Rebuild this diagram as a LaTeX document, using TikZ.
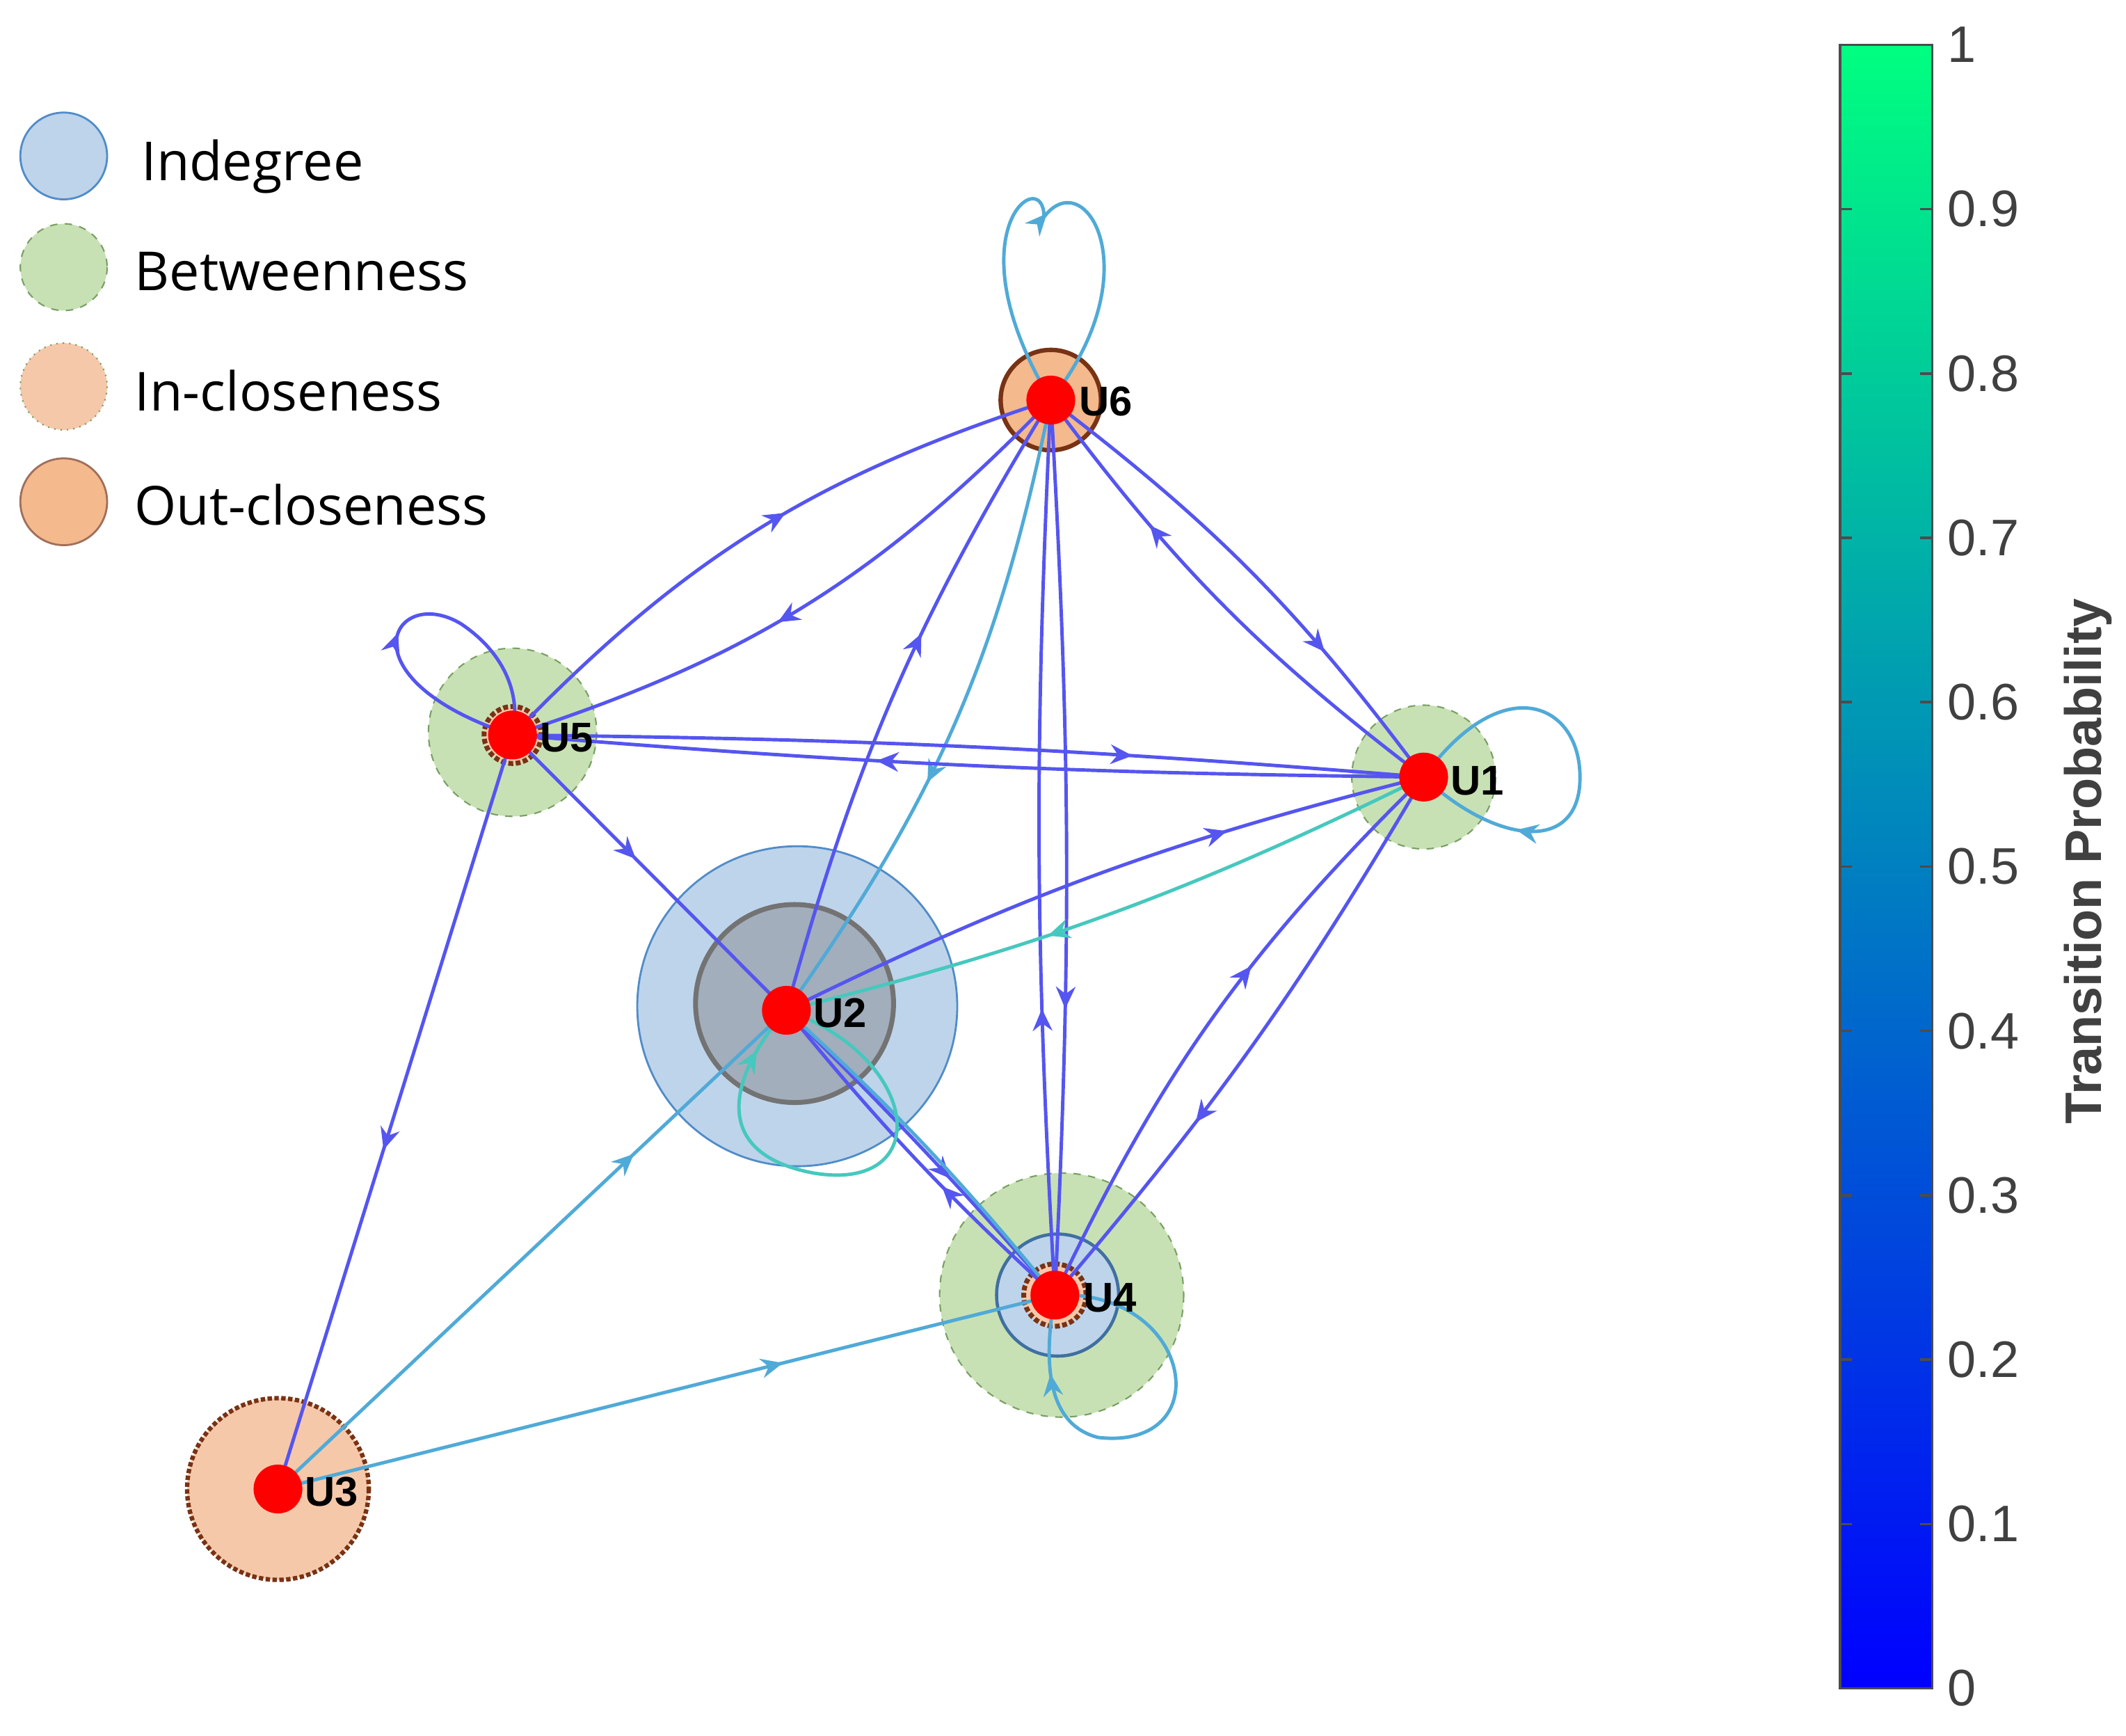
\documentclass[tikz,border=0pt]{standalone}
\usepackage{fontspec}
\setmainfont{Open Sans}
\newfontfamily\arl{Liberation Sans}
\usetikzlibrary{arrows.meta,decorations.markings}
\definecolor{eb}{RGB}{85,85,240}
\definecolor{ec}{RGB}{80,170,215}
\definecolor{et}{RGB}{70,200,190}
\definecolor{ind}{RGB}{190,212,235}
\definecolor{indb}{RGB}{80,140,200}
\definecolor{btw}{RGB}{200,225,180}
\definecolor{btwb}{RGB}{120,160,100}
\definecolor{inc}{RGB}{246,200,170}
\definecolor{outc}{RGB}{244,185,140}
\definecolor{brn}{RGB}{120,50,20}
\definecolor{cb0}{RGB}{0,0,255}
\definecolor{cb5}{RGB}{0,128,192}
\definecolor{cb1}{RGB}{0,255,128}
\tikzset{
 x=0.01949cm,y=-0.01949cm,
 e/.style={line width=1.4pt,draw=#1},
 m/.style={postaction={decorate},decoration={markings,mark=at position #1 with {\arrow{Stealth[length=9pt,width=8pt,inset=3pt]}}}},
 nd/.style={circle,fill=red,minimum size=36*0.01949cm,inner sep=0pt},
 lab/.style={font=\arl\bfseries\fontsize{17}{17}\selectfont,anchor=west,inner sep=1pt},
 leg/.style={font=\fontsize{22}{22}\selectfont,anchor=west},
 tk/.style={font=\arl\fontsize{21}{21}\selectfont,anchor=west,text=black!75},
}
\begin{document}
\begin{tikzpicture}
\useasboundingbox (0,0) rectangle (1568,1280);
% legend
\draw[indb,fill=ind,line width=0.8pt] (47,115) circle (32);
\draw[btwb,fill=btw,dashed,line width=0.6pt] (47,197) circle (32);
\draw[btwb,fill=inc,dotted,line width=0.6pt] (47,285) circle (32);
\draw[brn!70,fill=outc,line width=0.8pt] (47,370) circle (32);
\node[leg] (l1) at (98,123) {Indegree};
\node[leg] (l2) at (93,200) {Betweenness};
\node[leg] (l3) at (93,288) {In-closeness};
\node[leg] (l4) at (93,372) {Out-closeness};
% centrality circles
\draw[indb,fill=ind,line width=0.8pt] (588,742) circle (118);
\draw[gray!90!black,fill=gray!45!ind,line width=2pt] (586,740) circle (73);
\draw[btwb,fill=btw,dashed,line width=0.6pt] (783,955) circle (90);
\draw[indb!80!black,fill=ind,line width=1.3pt] (780,955) circle (45);
\draw[brn,fill=inc,densely dotted,line width=2pt] (778,955) circle (23);
\draw[btwb,fill=btw,dashed,line width=0.6pt] (378,540) circle (62);
\draw[brn,fill=inc,densely dotted,line width=2pt] (378,542) circle (21);
\draw[btwb,fill=btw,dashed,line width=0.6pt] (1050,573) circle (53);
\draw[brn,fill=outc,line width=1.8pt] (775,295) circle (37);
\draw[brn,fill=inc,densely dotted,line width=1.8pt] (205,1098) circle (67);
% node coordinates
\coordinate (U6) at (775,295);
\coordinate (U5) at (378,542);
\coordinate (U1) at (1050,573);
\coordinate (U2) at (580,745);
\coordinate (U4) at (778,955);
\coordinate (U3) at (205,1098);
\coordinate (L6) at (770,160);
\coordinate (L5) at (310,490);
\coordinate (L1) at (1150,570);
\coordinate (L4) at (845,1020);
\coordinate (L2) at (580,820);
% edges
\draw[e=eb,m=0.55] (U6) to[bend left=14] (U5);
\draw[e=eb,m=0.55] (U5) to[bend left=14] (U6);
\draw[e=ec,m=0.6] (U6) to[bend left=12] (U2);
\draw[e=eb,m=0.6] (U2) to[bend left=8] (U6);
\draw[e=eb,m=0.68] (U6) to[bend left=3] (U4);
\draw[e=eb,m=0.32] (U4) to[bend left=3] (U6);
\draw[e=eb,m=0.7] (U6) to[bend left=8] (U1);
\draw[e=eb,m=0.7] (U1) to[bend left=8] (U6);
\draw[e=eb,m=0.6] (U1) to[bend left=2] (U5);
\draw[e=eb,m=0.68] (U5) to[bend left=2] (U1);
\draw[e=et,m=0.6] (U1) to[bend left=6] (U2);
\draw[e=eb,m=0.7] (U2) to[bend left=6] (U1);
\draw[e=eb,m=0.65] (U1) to[bend left=5] (U4);
\draw[e=eb,m=0.6] (U4) to[bend left=10] (U1);
\draw[e=eb,m=0.45] (U5) -- (U2);
\draw[e=eb,m=0.55] (U5) -- (U3);
\draw[e=eb,m=0.6] (U2) to[bend left=2] (U4);
\draw[e=eb,m=0.4] (U4) to[bend left=4] (U2);
\draw[e=ec] (U4) to[bend right=4] (U2);
\draw[e=ec,m=0.7] (U3) -- (U2);
\draw[e=ec,m=0.65] (U3) -- (U4);
% self loops
\draw[e=ec,m=0.5] (U6) .. controls (700,170) and (770,120) .. (L6) .. controls (800,120) and (850,200) .. (U6);
\draw[e=eb,m=0.45] (U5) .. controls (250,500) and (290,430) .. (340,460) .. controls (370,480) and (385,510) .. (U5);
\draw[e=ec,m=0.75] (U1) .. controls (1110,490) and (1170,520) .. (1165,580) .. controls (1160,630) and (1100,620) .. (U1);
\draw[e=ec,m=0.82] (U4) .. controls (880,950) and (900,1070) .. (810,1060) .. controls (770,1050) and (770,1000) .. (U4);
\draw[e=et,m=0.9] (U2) .. controls (680,780) and (690,880) .. (600,865) .. controls (520,850) and (540,790) .. (U2);
% nodes
\node[nd] (n6) at (U6) {};
\node[nd] (n5) at (U5) {};
\node[nd] (n1) at (U1) {};
\node[nd] (n2) at (U2) {};
\node[nd] (n4) at (U4) {};
\node[nd] (n3) at (U3) {};
\node[lab] (t6) at (794,296) {U6};
\node[lab] (t5) at (396,544) {U5};
\node[lab] (t1) at (1068,576) {U1};
\node[lab] (t2) at (598,747) {U2};
\node[lab] (t4) at (797,957) {U4};
\node[lab] (t3) at (223,1100) {U3};
% colorbar
\shade[bottom color=cb0,top color=cb5] (1357,1245) rectangle (1425,639);
\shade[bottom color=cb5,top color=cb1] (1357,639) rectangle (1425,33);
\draw[black!70,line width=1pt] (1357,33) rectangle (1425,1245);
\foreach \v/\t in {0/0,1/0.1,2/0.2,3/0.3,4/0.4,5/0.5,6/0.6,7/0.7,8/0.8,9/0.9,10/1}{
  \draw[black!70,line width=1pt] (1425,1245-121.2*\v) -- ++(-9,0);
  \draw[black!70,line width=1pt] (1357,1245-121.2*\v) -- ++(9,0);
  \node[tk] at (1430,1245-121.2*\v) {\t};
}
\node[font=\arl\bfseries\fontsize{21}{21}\selectfont,rotate=90,text=black!75] (cbl) at (1540,635) {Transition Probability};
\end{tikzpicture}
\end{document}
